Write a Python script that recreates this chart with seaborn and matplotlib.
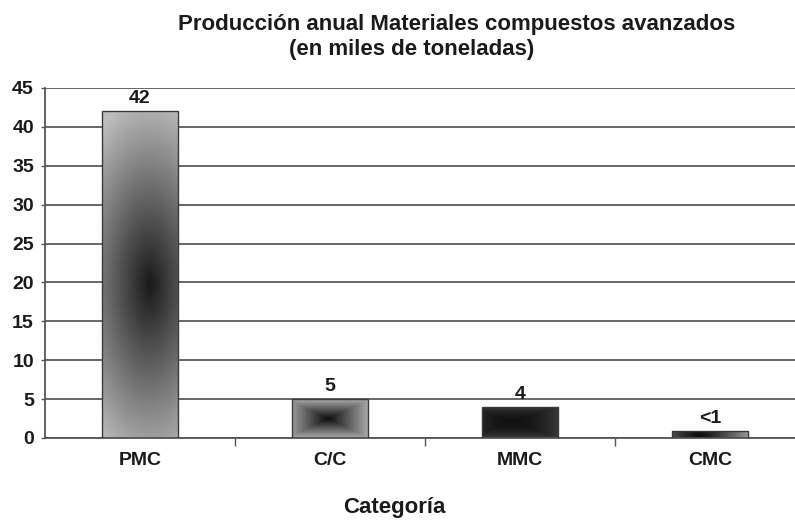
import numpy as np
import pandas as pd
import matplotlib
matplotlib.use("Agg")
import matplotlib.pyplot as plt
import seaborn as sns

# Annual production of advanced composites (thousands of tonnes)
categories = ["PMC", "C/C", "MMC", "CMC"]
values = [42, 5, 4, 0.95]
value_labels = ["42", "5", "4", "<1"]
y_ticks = [0, 5, 10, 15, 20, 25, 30, 35, 40, 45]

title_line1 = "Producción anual Materiales compuestos avanzados"
title_line2 = "(en miles de toneladas)"
x_label = "Categoría"

sns.set_theme(style="white")
plt.rcParams["font.family"] = ["Liberation Sans", "DejaVu Sans"]
plt.rcParams["font.weight"] = "bold"

df = pd.DataFrame({"Categoría": categories, "Valor": values})

fig = plt.figure(figsize=(7.95, 5.2), dpi=100)
# axes run slightly past the right border of the figure
ax = fig.add_axes([45 / 795, 82 / 520, 760 / 795, 350 / 520])

sns.barplot(data=df, x="Categoría", y="Valor", ax=ax, width=0.405,
            edgecolor="#3a3a3a", linewidth=1.0, color="white", zorder=3)

ax.set_ylim(0, 45)
ax.set_xlim(-0.5, 3.5)
ax.set_yticks(y_ticks)
ax.set_yticklabels([str(t) for t in y_ticks], fontsize=14, fontweight="bold",
                   color="#1a1a1a")
ax.yaxis.grid(True, color="#5a5a5a", linewidth=1.3)
ax.set_axisbelow(True)

# category labels centred under bars, tick marks on category borders
ax.set_xticks(range(len(categories)))
ax.set_xticklabels(categories, fontsize=14, fontweight="bold", color="#1a1a1a")
ax.set_xticks([0.5, 1.5, 2.5], minor=True)
ax.tick_params(axis="x", which="major", length=0, pad=10)
ax.tick_params(axis="x", which="minor", length=6, width=1, color="#555555",
               direction="out", bottom=True)
ax.tick_params(axis="y", which="major", length=3, width=1, color="#555555",
               left=True, pad=5)

for side in ["top", "right"]:
    ax.spines[side].set_visible(False)
for side in ["left", "bottom"]:
    ax.spines[side].set_color("#555555")
    ax.spines[side].set_linewidth(1.3)

ax.set_ylabel("")
ax.set_xlabel("")


def shade(kind, u, v):
    if kind == 0:
        t = np.sqrt(((u - 0.62) / 1.1) ** 2 + ((v - 0.47) / 0.58) ** 2)
        return 0.10 + 0.64 * np.clip(t, 0, 1)
    if kind == 1:
        t = np.maximum(np.abs(u - 0.47) / 0.53, np.abs(v - 0.5) / 0.5)
        return 0.05 + 0.62 * np.clip(t, 0, 1)
    if kind == 2:
        t = np.maximum(np.abs(u - 0.4) / 0.6, np.abs(v - 0.5) / 0.5)
        return 0.07 + 0.16 * np.clip(t, 0, 1) ** 2
    t = np.abs(u - 0.35) / 0.65
    return 0.06 + 0.55 * np.clip(t, 0, 1) ** 1.3


nx, ny = 120, 200
uu, vv = np.meshgrid(np.linspace(0, 1, nx), np.linspace(0, 1, ny))
for i, patch in enumerate(ax.patches):
    x0, y0 = patch.get_x(), patch.get_y()
    w, h = patch.get_width(), patch.get_height()
    img = shade(i, uu, vv)
    im = ax.imshow(img, cmap="gray", vmin=0, vmax=1, origin="lower",
                   extent=[x0, x0 + w, y0, y0 + h], aspect="auto",
                   interpolation="bilinear", zorder=2.5)
    im.set_clip_path(patch)
    patch.set_facecolor("none")
    ax.text(x0 + w / 2, y0 + h + 0.5, value_labels[i], ha="center",
            va="bottom", fontsize=14, fontweight="bold", color="#1a1a1a")

ax.set_xlim(-0.5, 3.5)
ax.set_ylim(0, 45)

fig.text(457 / 795, 1 - 24 / 520, title_line1, ha="center", va="center",
         fontsize=16, fontweight="bold", color="#1a1a1a")
fig.text(412 / 795, 1 - 50 / 520, title_line2, ha="center", va="center",
         fontsize=16, fontweight="bold", color="#1a1a1a")
fig.text(394 / 795, 1 - 507 / 520, x_label, ha="center", va="center",
         fontsize=16, fontweight="bold", color="#1a1a1a")

fig.savefig("out.png", dpi=100)
